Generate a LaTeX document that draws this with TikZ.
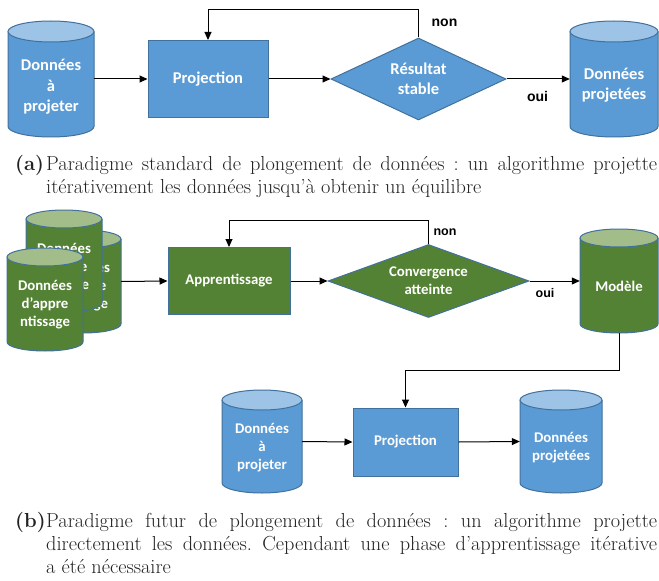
\documentclass[tikz,border=0pt]{standalone}
\usepackage{fontspec}
\newfontfamily\calfont{Carlito}
\newfontfamily\arialfont{Liberation Sans}
\usetikzlibrary{arrows.meta,fit,shapes.geometric}
\definecolor{bF}{HTML}{5B9BD5}
\definecolor{bT}{HTML}{9DC3E6}
\definecolor{bB}{HTML}{41719C}
\definecolor{gF}{HTML}{548235}
\definecolor{gT}{HTML}{A3BD8A}
\definecolor{capc}{HTML}{222222}
\frenchspacing
\tikzset{
  shapeline/.style={draw=bB, line width=1bp},
  procbox/.style={shapeline, fill=#1, rectangle, inner sep=0pt},
  decbox/.style={shapeline, fill=#1, diamond, inner sep=0pt},
  bigtxt/.style={text=white, align=center, inner sep=0pt, font=\calfont\bfseries\fontsize{16.5bp}{20.5bp}\selectfont},
  smalltxt/.style={text=white, align=center, inner sep=0pt, font=\calfont\bfseries\fontsize{14.8bp}{18bp}\selectfont},
  edgelbl/.style={inner sep=0pt, font=\arialfont\bfseries\fontsize{#1}{#1}\selectfont},
  arr/.style={-{Triangle[length=8bp,width=7bp]}, line width=1bp},
  captxt/.style={anchor=base west, inner sep=0pt, text=capc, font=\fontsize{20.3bp}{23bp}\selectfont},
}
% #1 name, #2 cx, #3 ytop, #4 ybot, #5 half width, #6 ry, #7 body colour, #8 top colour
\newcommand\mycyl[8]{%
  \fill[#7] (#2-#5,#3+#6) -- (#2-#5,#4-#6) arc[start angle=180, end angle=0, x radius=#5, y radius=#6] -- (#2+#5,#3+#6) -- cycle;
  \draw[shapeline] (#2-#5,#3+#6) -- (#2-#5,#4-#6) arc[start angle=180, end angle=0, x radius=#5, y radius=#6] -- (#2+#5,#3+#6);
  \draw[shapeline, fill=#8] (#2,#3+#6) ellipse [x radius=#5, y radius=#6];
  \coordinate (#1-a) at (#2-#5,#3);
  \coordinate (#1-b) at (#2+#5,#4);
  \node[fit=(#1-a)(#1-b), inner sep=0pt] (#1) {};
}
\begin{document}
\begin{tikzpicture}[x=1bp, y=-1bp]
\fill[white] (0,0) rectangle (659,581);
\useasboundingbox (0,0) rectangle (659,581);

% ---------- (a) ----------
\mycyl{cylA}{51}{21}{137}{43}{10.5}{bF}{bT}
\node[bigtxt] (cylA-t) at (51,87) {Données\\à\\projeter};
\node[procbox=bF, bigtxt, minimum width=120bp, minimum height=77bp] (projA) at (208,79) {Projection};
\node[decbox=bF, bigtxt, minimum width=175bp, minimum height=82bp, aspect=2.134] (decA) at (418.5,79) {Résultat\\stable};
\mycyl{cylB}{614}{21}{137}{44}{10.5}{bF}{bT}
\node[bigtxt] (cylB-t) at (614,85) {Données\\projetées};

\draw[arr] (cylA.east) -- (projA.west);
\draw[arr] (projA.east) -- (decA.west);
\draw[arr] (decA.north) -- ++(0,-28) -| (projA.north);
\draw[arr] (decA.east) -- (cylB.west);
\node[edgelbl=14bp] (nonA) at (444.5,23) {non};
\node[edgelbl=14bp] (ouiA) at (537.5,96) {oui};

\node[captxt, font=\fontsize{20.3bp}{23bp}\selectfont\bfseries] (capa-l) at (15,171) {(a)};
\node[captxt, text width=611bp, align=justify] (capa) at (46,171) {Paradigme standard de plongement de données : un algorithme projette\linebreak itérativement les données jusqu’à obtenir un équilibre};

% ---------- (b) ----------
\mycyl{dB2}{83}{230}{333}{38}{9}{gF}{gT}
\node[smalltxt] (dB2-t) at (83,287) {Données\\d’appre\\ntissage};
\mycyl{dB1}{64}{210}{312}{38}{9}{gF}{gT}
\node[smalltxt] (dB1-t) at (64,268) {Données\\d’appre\\ntissage};
\mycyl{dF}{45}{248}{351}{38}{9}{gF}{gT}
\node[smalltxt] (dF-t) at (45,305) {Données\\d’appre\\ntissage};

\node[procbox=gF, smalltxt, minimum width=122bp, minimum height=67bp] (appr) at (229,281) {Apprentissage};
\node[decbox=gF, smalltxt, minimum width=201bp, minimum height=73bp, aspect=2.753] (decB) at (428.5,281) {Convergence\\atteinte};
\mycyl{mod}{619}{229}{333}{39}{9}{gF}{gT}
\node[smalltxt] (mod-t) at (619,286) {Modèle};

\draw[arr] (dB2.east) -- (appr.west);
\draw[arr] (appr.east) -- (decB.west);
\draw[arr] (decB.north) -- ++(0,-24) -| (appr.north);
\draw[arr] (decB.east) -- (mod.west);
\node[edgelbl=12.5bp] (nonB) at (445,232) {non};
\node[edgelbl=12.5bp] (ouiB) at (545,293) {oui};

\mycyl{cylC}{262}{390}{493}{40}{10}{bF}{bT}
\node[smalltxt] (cylC-t) at (262,448) {Données\\à\\projeter};
\node[procbox=bF, smalltxt, minimum width=105bp, minimum height=68bp] (projB) at (405.5,442) {Projection};
\mycyl{cylD}{561}{390}{493}{41}{10}{bF}{bT}
\node[smalltxt] (cylD-t) at (561,448) {Données\\projetées};

\draw[arr] (mod.south) -- ++(0,37) -| (projB.north);
\draw[arr] (cylC.east) -- (projB.west);
\draw[arr] (projB.east) -- (cylD.west);

\node[captxt, font=\fontsize{20.3bp}{23bp}\selectfont\bfseries] (capb-l) at (15,527) {(b)};
\node[captxt, text width=611bp, align=justify] (capb) at (46,527) {Paradigme futur de plongement de données : un algorithme projette\linebreak directement les données. Cependant une phase d’apprentissage itérative\linebreak a été nécessaire};
\end{tikzpicture}
\end{document}
